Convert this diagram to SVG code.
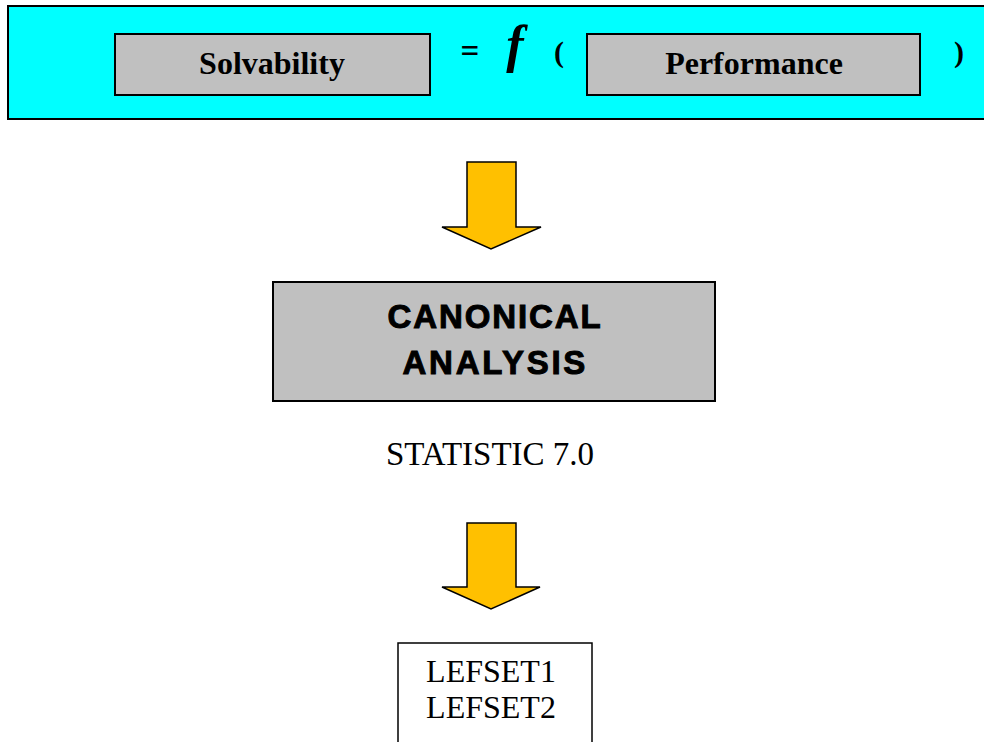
<svg xmlns="http://www.w3.org/2000/svg" width="984" height="742" viewBox="0 0 984 742">
<style>
.box{stroke:#000;stroke-width:2}
.gray{fill:#C0C0C0}
.arrow{fill:#FFC000;stroke:#000;stroke-width:1.5;stroke-linejoin:miter}
.tb{font-family:"Liberation Serif",serif;font-weight:bold;fill:#000}
.tr{font-family:"Liberation Serif",serif;fill:#000}
.ab{font-family:"Liberation Sans",Arial,sans-serif;font-weight:bold;fill:#000;stroke:#000;stroke-width:1}
</style>
<rect width="984" height="742" fill="#fff"/>
<g id="equation">
  <rect class="box" x="8" y="6" width="990" height="113" fill="#00FFFF"/>
  <text class="tb" x="470" y="62" font-size="33" text-anchor="middle">=</text>
  <text class="tb" x="515" y="62" font-size="52" font-style="italic" text-anchor="middle">f</text>
  <text class="tb" x="559" y="62" font-size="30" text-anchor="middle">(</text>
  <text class="tb" x="959" y="62" font-size="30" text-anchor="middle">)</text>
</g>
<g id="solvability">
  <rect class="box gray" x="115" y="34" width="315" height="61"/>
  <text class="tb" x="272" y="74" font-size="32" text-anchor="middle">Solvability</text>
</g>
<g id="performance">
  <rect class="box gray" x="587" y="34" width="333" height="61"/>
  <text class="tb" x="754" y="74" font-size="32" text-anchor="middle">Performance</text>
</g>
<g id="connectors">
  <polygon class="arrow" points="467,162 516,162 516,227 541,227 491,249 442,227 467,227"/>
  <polygon class="arrow" points="467,523 516,523 516,587 540,587 491,609 442,587 467,587"/>
</g>
<g id="canonical">
  <rect class="box gray" x="273" y="282" width="442" height="119"/>
  <text class="ab" x="495" y="328" font-size="33" letter-spacing="1.9" text-anchor="middle">CANONICAL</text>
  <text class="ab" x="495.3" y="374" font-size="33" letter-spacing="2.7" text-anchor="middle">ANALYSIS</text>
</g>
<g id="statistic">
  <text class="tr" x="490" y="465" font-size="33" text-anchor="middle">STATISTIC 7.0</text>
</g>
<g id="lefset">
  <rect x="398" y="643" width="194" height="110" fill="#fff" stroke="#000" stroke-width="1.5"/>
  <text class="tr" x="491" y="682" font-size="32" text-anchor="middle">LEFSET1</text>
  <text class="tr" x="491" y="718" font-size="32" text-anchor="middle">LEFSET2</text>
</g>
</svg>
